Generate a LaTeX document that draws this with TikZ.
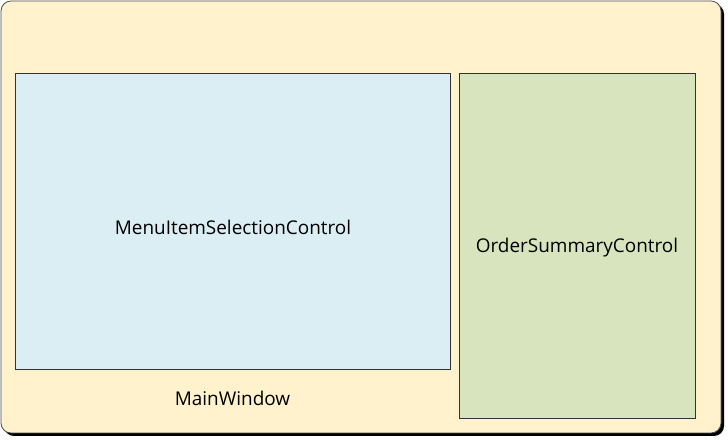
\documentclass[tikz,border=0pt]{standalone}
\usepackage{fontspec}
\setmainfont{Open Sans}
\usetikzlibrary{shadows}
\definecolor{winfill}{RGB}{255,242,204}
\definecolor{menufill}{RGB}{219,238,244}
\definecolor{orderfill}{RGB}{215,228,189}
\tikzset{
  winbox/.style={draw=black!70, fill=winfill, rounded corners=10bp, line width=0.8bp,
    drop shadow={shadow xshift=3bp, shadow yshift=-3bp, fill=black, opacity=1}},
  ctlbox/.style={draw=black!80, line width=0.7bp,
    drop shadow={shadow xshift=1.2bp, shadow yshift=-1.2bp, fill=black!50, opacity=1}}
}
\begin{document}
\begin{tikzpicture}[font=\fontsize{19}{22}\selectfont, x=1bp, y=1bp]
\useasboundingbox (0,0) rectangle (728,440);

\draw[winbox] (1,439) rectangle (721,7);

\node[ctlbox, fill=menufill, minimum width=435bp, minimum height=296bp] (menu) at (232.5,219) {};
\node[ctlbox, fill=orderfill, minimum width=236bp, minimum height=345bp] (order) at (577,194.5) {};
\node[] (menulabel) at (233,213) {MenuItemSelectionControl};
\node[] (orderlabel) at (577,192) {OrderSummaryControl};
\node[] (main) at (232.5,42) {MainWindow};

\end{tikzpicture}
\end{document}
